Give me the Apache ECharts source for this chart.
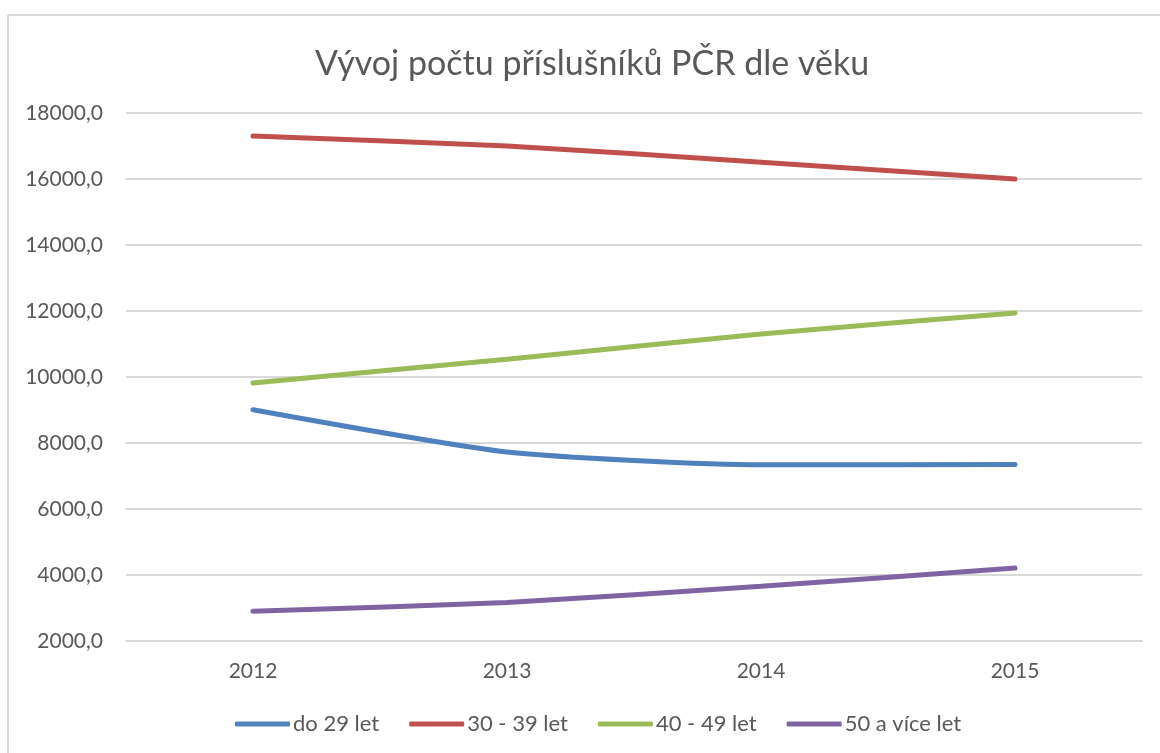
<!DOCTYPE html>
<html>
<head>
<meta charset="utf-8">
<script src="https://cdn.jsdelivr.net/npm/echarts@6/dist/echarts.min.js"></script>
<style>
html,body{margin:0;padding:0;background:#fff;}
#c{width:1160px;height:753px;}
</style>
</head>
<body>
<div id="c"></div>
<script>
const categories = ['2012', '2013', '2014', '2015'];
const do29 = [9010, 7730, 7340, 7345];
const s30_39 = [17300, 17000, 16510, 16000];
const s40_49 = [9820, 10540, 11300, 11940];
const s50plus = [2900, 3170, 3660, 4210];
const seriesNames = ['do 29 let', '30 - 39 let', '40 - 49 let', '50 a více let'];
const colors = ['#4F81BD', '#C0504D', '#9BBB59', '#8064A2'];
const titleText = 'Vývoj počtu příslušníků PČR dle věku';

const font = 'Lato, "Open Sans", sans-serif';
const chart = echarts.init(document.getElementById('c'));
const mk = (name, data, i) => ({
  name, type: 'line', data, smooth: 0.2, symbol: 'none',
  lineStyle: { width: 5, color: colors[i], cap: 'round' },
  itemStyle: { color: colors[i] }
});
chart.setOption({
  animation: false,
  backgroundColor: '#fff',
  graphic: [
    { type: 'line', shape: { x1: 8, y1: 15, x2: 1160, y2: 15 }, style: { stroke: '#d9d9d9', lineWidth: 2 } },
    { type: 'line', shape: { x1: 8, y1: 15, x2: 8, y2: 753 }, style: { stroke: '#d9d9d9', lineWidth: 2 } }
  ],
  title: {
    text: titleText, left: 310, top: 42,
    textStyle: { fontFamily: font, fontSize: 34, fontWeight: 'normal', color: '#595959' }
  },
  grid: { left: 126, right: 18, top: 113, bottom: 112 },
  legend: {
    bottom: 13, left: 230, itemWidth: 55, itemHeight: 5, itemGap: 30,
    icon: 'roundRect',
    textStyle: { fontFamily: font, fontSize: 22, color: '#595959', padding: [0, 0, 0, -2] },
    data: seriesNames
  },
  xAxis: {
    type: 'category', data: categories, boundaryGap: true,
    axisLine: { lineStyle: { color: '#d9d9d9', width: 2 } },
    axisTick: { show: false },
    axisLabel: { fontFamily: font, fontSize: 21, color: '#595959', margin: 20 }
  },
  yAxis: {
    type: 'value', min: 2000, max: 18000, interval: 2000,
    axisLine: { show: false }, axisTick: { show: false },
    splitLine: { lineStyle: { color: '#d9d9d9', width: 2 } },
    axisLabel: {
      fontFamily: font, fontSize: 21, color: '#595959', margin: 23,
      formatter: v => v.toFixed(1).replace('.', ',')
    }
  },
  series: [
    mk(seriesNames[0], do29, 0),
    mk(seriesNames[1], s30_39, 1),
    mk(seriesNames[2], s40_49, 2),
    mk(seriesNames[3], s50plus, 3)
  ]
});
</script>
</body>
</html>
